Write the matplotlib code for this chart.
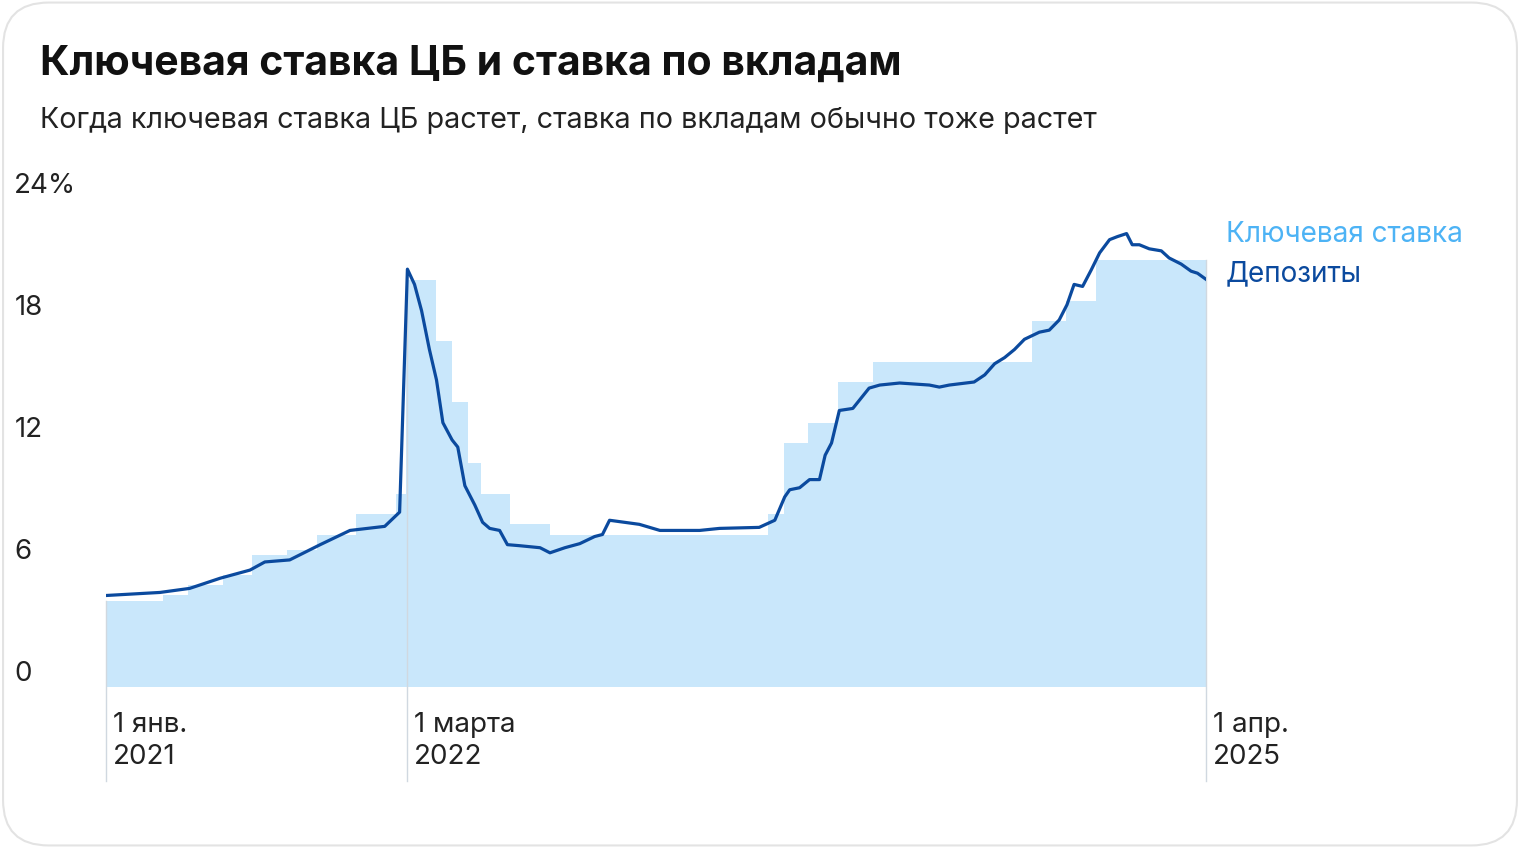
import matplotlib
matplotlib.use("Agg")
import matplotlib.pyplot as plt
import matplotlib.dates as mdates
from matplotlib.patches import FancyBboxPatch
import pandas as pd

key_dates = ["2021-01-01","2021-03-22","2021-04-26","2021-06-15","2021-07-26","2021-09-13",
             "2021-10-25","2021-12-20","2022-02-14","2022-02-28","2022-04-11","2022-05-04",
             "2022-05-27","2022-06-14","2022-07-25","2022-09-19","2023-07-24","2023-08-15",
             "2023-09-18","2023-10-30","2023-12-18","2024-07-29","2024-09-16","2024-10-28","2025-04-01"]
key_rates = [4.25,4.5,5.0,5.5,6.5,6.75,7.5,8.5,9.5,20,17,14,11,9.5,8,7.5,8.5,12,13,15,16,18,19,21,21]

dep_dates = ["2021-01-01","2021-03-18","2021-04-29","2021-06-11","2021-07-23","2021-08-13","2021-09-17",
             "2021-10-30","2021-12-11","2022-01-29","2022-02-19","2022-03-02","2022-03-12","2022-03-22",
             "2022-04-02","2022-04-12","2022-04-21","2022-05-04","2022-05-12","2022-05-22","2022-06-05",
             "2022-06-16","2022-06-26","2022-07-10","2022-07-21","2022-08-07","2022-09-05","2022-09-19",
             "2022-10-10","2022-10-31","2022-11-21","2022-12-02","2022-12-12","2023-01-02","2023-01-23",
             "2023-02-21","2023-04-18","2023-05-16","2023-07-11","2023-08-02","2023-08-16","2023-08-23",
             "2023-09-06","2023-09-20","2023-10-04","2023-10-12","2023-10-21","2023-11-01","2023-11-20",
             "2023-12-13","2023-12-28","2024-01-25","2024-03-07","2024-03-21","2024-04-04","2024-05-09",
             "2024-05-24","2024-06-07","2024-06-21","2024-07-05","2024-07-19","2024-08-09","2024-08-23",
             "2024-09-06","2024-09-17","2024-09-27","2024-10-09","2024-10-21","2024-11-02","2024-11-16",
             "2024-11-27","2024-12-10","2024-12-18","2024-12-28","2025-01-11","2025-01-28","2025-02-08",
             "2025-02-25","2025-03-11","2025-03-20","2025-04-01"]
dep_rates = [4.5,4.65,4.85,5.35,5.75,6.15,6.25,7.0,7.7,7.9,8.6,20.55,19.8,18.5,16.6,15.1,13.0,12.15,11.8,
             9.9,8.95,8.1,7.8,7.7,7.0,6.95,6.85,6.6,6.85,7.05,7.4,7.5,8.2,8.1,8.0,7.7,7.7,7.8,7.85,8.2,
             9.35,9.7,9.8,10.2,10.2,11.4,12.0,13.6,13.7,14.7,14.85,14.95,14.85,14.75,14.85,15.0,15.35,
             15.9,16.2,16.6,17.1,17.45,17.55,18.05,18.8,19.8,19.7,20.5,21.35,22.0,22.15,22.3,21.75,21.75,
             21.55,21.45,21.1,20.8,20.45,20.35,20.05]

y_ticks = [0, 6, 12, 18, 24]
y_labels = ["0", "6", "12", "18", "24%"]
x_marks = ["2021-01-01", "2022-03-01", "2025-04-01"]
x_labels = ["1 янв.\n2021", "1 марта\n2022", "1 апр.\n2025"]

FONT = "Inter"
plt.rcParams["font.family"] = FONT

fig = plt.figure(figsize=(15.2, 8.48), dpi=100)
W, H = 1520, 848
border = FancyBboxPatch((0.002, 0.003), 0.996, 0.994, boxstyle="round,pad=0,rounding_size=0.03",
                        transform=fig.transFigure, fc="white", ec="#e3e3e3", lw=1.5,
                        mutation_aspect=1520/848, zorder=-10)
fig.patches.append(border)
ax = fig.add_axes([106/W, 1-687/H, 1100/W, 488/H])
ax.set_facecolor("none")
ax.set_zorder(5)

kd = pd.to_datetime(key_dates)
dd = pd.to_datetime(dep_dates)
ax.fill_between(kd, 0, key_rates, step="post", color="#c9e7fb", lw=0)
ax.plot(dd, dep_rates, color="#0b4a9e", lw=2.3, solid_joinstyle="round", zorder=3)

xm = pd.to_datetime(x_marks)
ks = pd.Series(key_rates, index=kd)
for d, lab in zip(xm, x_labels):
    val = ks.asof(d)
    ax.plot([d, d], [-4.6, val], color="#d0d8e0", lw=1, clip_on=False, zorder=2)
    ax.annotate(lab, (d, 0), xytext=(7, -25), textcoords="offset pixels", ha="left", va="top",
                fontsize=20, color="#222", linespacing=1.3, annotation_clip=False)

ax.set_xlim(kd[0], kd[-1])
ax.set_ylim(0, 24)
ax.set_yticks(y_ticks)
ax.set_yticklabels(y_labels, fontsize=20, color="#222", ha="left", va="bottom")
ax.tick_params(axis="y", length=0, pad=66)
ax.set_xticks([])
for s in ax.spines.values():
    s.set_visible(False)

fig.text(40/W, 1-64/H, "Ключевая ставка ЦБ и ставка по вкладам", fontsize=29.5, fontweight="bold",
         color="#111", va="center", ha="left")
fig.text(40/W, 1-121/H, "Когда ключевая ставка ЦБ растет, ставка по вкладам обычно тоже растет",
         fontsize=20.7, color="#222", va="center", ha="left")
fig.text(1226/W, 1-235/H, "Ключевая ставка", fontsize=20.1, color="#4db3f5", va="center", ha="left")
fig.text(1226/W, 1-274/H, "Депозиты", fontsize=20.1, color="#0b4a9e", va="center", ha="left")

fig.savefig("out.png", dpi=100)
